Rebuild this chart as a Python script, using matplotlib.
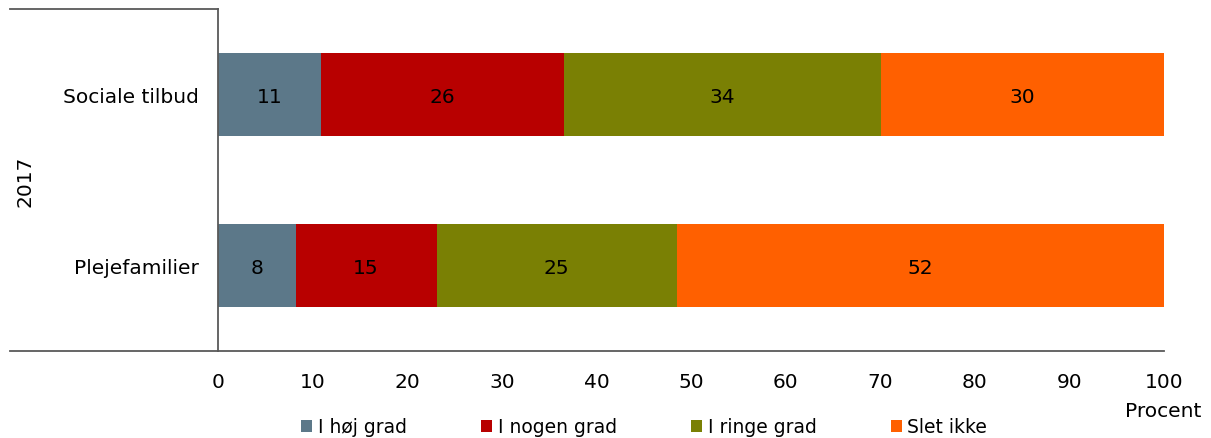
import numpy as np
import matplotlib.pyplot as plt
from matplotlib.lines import Line2D

# data
categories = ['Sociale tilbud', 'Plejefamilier']
series = ['I høj grad', 'I nogen grad', 'I ringe grad', 'Slet ikke']
values = {
    'I høj grad': [10.9, 8.2],
    'I nogen grad': [25.7, 14.9],
    'I ringe grad': [33.5, 25.4],
    'Slet ikke': [29.9, 51.5],
}
labels = {
    'I høj grad': [11, 8],
    'I nogen grad': [26, 15],
    'I ringe grad': [34, 25],
    'Slet ikke': [30, 52],
}
colors = ['#5C7889', '#B80000', '#7A8004', '#FF6000']
xticks = list(range(0, 101, 10))

FS = 14.5
W, H = 1211, 439
fig = plt.figure(figsize=(W / 100, H / 100), dpi=100)
ax = fig.add_axes([218 / W, 1 - 352 / H, (1164 - 218) / W, (352 - 10) / H])

y = np.arange(len(categories))
left = np.zeros(len(categories))
for s, c in zip(series, colors):
    v = np.array(values[s])
    ax.barh(y, v, left=left, height=0.49, color=c, label=s, linewidth=0)
    for yi, l, vi, lab in zip(y, left, v, labels[s]):
        ax.text(l + vi / 2, yi + 0.01, str(lab), ha='center', va='center',
                fontsize=FS, color='black')
    left += v

ax.set_xlim(0, 100)
ax.set_ylim(1.5, -0.5)
ax.set_yticks(y)
ax.set_yticklabels(categories, fontsize=FS)
ax.set_xticks(xticks)
ax.set_xticklabels([str(t) for t in xticks], fontsize=FS)
ax.tick_params(length=0)
ax.tick_params(axis='x', pad=15)
ax.tick_params(axis='y', pad=14)
for sp in ['top', 'right']:
    ax.spines[sp].set_visible(False)
for sp in ['left', 'bottom']:
    ax.spines[sp].set_color('#595959')
    ax.spines[sp].set_linewidth(1.3)

# group axis lines extending to the left
fig.add_artist(Line2D([10 / W, 218 / W], [1 - 10 / H, 1 - 10 / H],
                      color='#595959', lw=1.3, transform=fig.transFigure))
fig.add_artist(Line2D([10 / W, 218 / W], [1 - 352 / H, 1 - 352 / H],
                      color='#595959', lw=1.3, transform=fig.transFigure))
fig.text(25 / W, 1 - 181 / H, '2017', rotation=90, ha='center', va='center',
         fontsize=FS)
fig.text(1163 / W, 1 - 412 / H, 'Procent', ha='center', va='center',
         fontsize=FS)

fig.legend(loc='center', bbox_to_anchor=(644 / W, 1 - 428 / H), ncol=4,
           frameon=False, fontsize=13.5, handlelength=0.6, handleheight=0.6,
           handletextpad=0.3, columnspacing=3.95)

fig.savefig('out.png', dpi=100)
